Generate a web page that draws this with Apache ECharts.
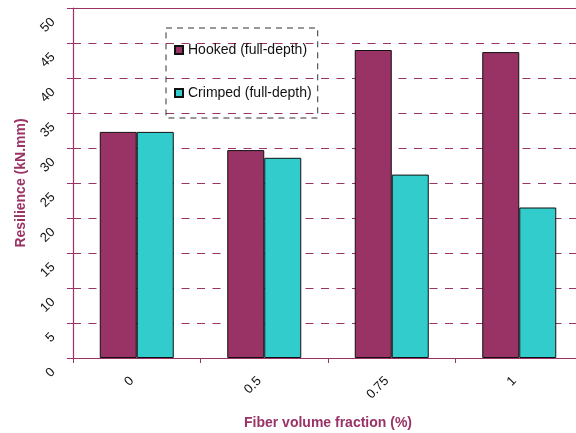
<!DOCTYPE html>
<html><head><meta charset="utf-8">
<script src="https://cdn.jsdelivr.net/npm/echarts@6/dist/echarts.min.js"></script>
<style>html,body{margin:0;padding:0;background:#fff}#c{width:576px;height:433px}</style>
</head><body><div id="c"></div>
<script>
const categories = ['0', '0.5', '0.75', '1'];
const hooked = [32.3, 29.7, 44.0, 43.7];
const crimped = [32.3, 28.6, 26.2, 21.5];
const yTicks = [0, 5, 10, 15, 20, 25, 30, 35, 40, 45, 50];

const chart = echarts.init(document.getElementById('c'), null, {renderer: 'canvas'});
const font = 'Liberation Sans, Arial, sans-serif';
const mag = '#993366';
chart.setOption({
  animation: false,
  backgroundColor: '#fff',
  grid: {left: 73, right: -7, top: 8, bottom: 75, containLabel: false, outerBoundsMode: 'none'},
  legend: {
    orient: 'vertical', left: 166, top: 28,
    padding: [15, 6, 18, 8], itemGap: 29,
    itemWidth: 8, itemHeight: 8, icon: 'rect',
    borderColor: '#333', borderWidth: 1, borderType: [6, 5],
    textStyle: {fontFamily: font, fontSize: 14, color: '#111'},
    data: ['Hooked (full-depth)', 'Crimped (full-depth)']
  },
  xAxis: [{
    type: 'category', data: categories, position: 'bottom',
    name: 'Fiber volume fraction (%)', nameLocation: 'middle', nameGap: 58,
    nameTextStyle: {fontFamily: font, fontSize: 14, fontWeight: 'bold', color: mag},
    axisLine: {lineStyle: {color: mag, width: 1.2}},
    axisTick: {show: true, length: 5, lineStyle: {color: mag}},
    axisLabel: {rotate: 45, fontFamily: font, fontSize: 13, color: '#111', margin: 16,
      align: 'right', verticalAlign: 'middle', padding: [0, 7, 0, 0]},
    splitLine: {show: false}
  }, {
    type: 'category', data: categories, position: 'top',
    axisLine: {show: true, lineStyle: {color: mag, width: 1}},
    axisTick: {show: false}, axisLabel: {show: false}, splitLine: {show: false}
  }],
  yAxis: {
    type: 'value', min: 0, max: 50, interval: 5,
    name: 'Resilience (kN.mm)', nameLocation: 'middle', nameGap: 43,
    nameTextStyle: {fontFamily: font, fontSize: 14, fontWeight: 'bold', color: mag},
    axisLine: {show: true, lineStyle: {color: mag, width: 1.2}},
    axisTick: {show: true, length: 6, lineStyle: {color: mag}},
    axisLabel: {rotate: 45, fontFamily: font, fontSize: 13, color: '#111', margin: 8,
      align: 'right', verticalAlign: 'middle', padding: [35, 17, 0, 0],
      formatter: v => yTicks.includes(v) ? String(v) : ''},
    splitLine: {show: true, lineStyle: {color: mag, type: [8, 7.5], width: 1.2}}
  },
  series: [{
    name: 'Hooked (full-depth)', type: 'bar', data: hooked, barWidth: 37, barGap: '0%',
    itemStyle: {color: mag, borderColor: '#111', borderWidth: 1}
  }, {
    name: 'Crimped (full-depth)', type: 'bar', data: crimped, barWidth: 37, barGap: '0%',
    itemStyle: {color: '#33CCCC', borderColor: '#111', borderWidth: 1}
  }]
});
</script></body></html>
